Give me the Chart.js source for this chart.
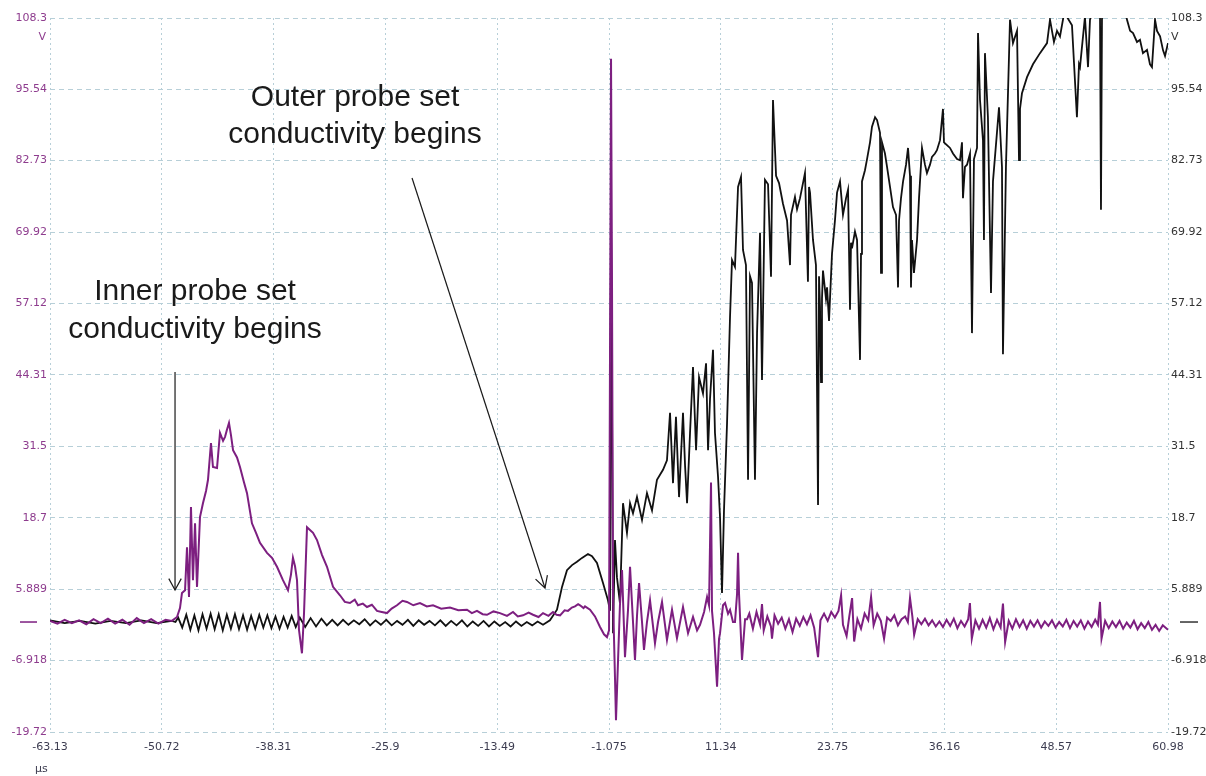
<!DOCTYPE html>
<html>
<head>
<meta charset="utf-8">
<script src="https://cdn.jsdelivr.net/npm/chart.js@4.4.0/dist/chart.umd.min.js"></script>
<style>
  html, body { margin: 0; padding: 0; background: #fff; }
  #wrap { width: 1206px; height: 776px; }
</style>
</head>
<body>
<div id="wrap"><canvas id="scope" width="1206" height="776"></canvas></div>
<script>
// axis ticks as printed by the scope software
const xTickLabels = ['-63.13', '-50.72', '-38.31', '-25.9', '-13.49', '-1.075', '11.34', '23.75', '36.16', '48.57', '60.98'];
const yTickLabels = ['-19.72', '-6.918', '5.889', '18.7', '31.5', '44.31', '57.12', '69.92', '82.73', '95.54', '108.3'];

// inner probe set (purple trace), time in µs, volts
const purpleT = [
  -63.13, -62.3, -61.5, -60.7, -59.9, -59.1, -58.3, -57.5, -56.7, -55.9, -55.1, -54.3, -53.5, -52.7, -51.9, -51.1, -50.3, -49.6,
  -49.03, -48.70, -48.48, -48.14, -47.92, -47.70, -47.48, -47.26, -47.03, -46.81, -46.48, -46.15, -45.81, -45.59, -45.26, -45.04,
  -44.59, -44.26, -43.92, -43.70, -43.48, -43.26, -43.04, -42.81, -42.37, -42.04, -41.59, -41.26, -40.71, -40.26, -39.82, -39.04,
  -38.49, -37.93, -37.27, -36.71, -36.38, -36.16, -35.93, -35.71, -35.49, -35.16, -34.93, -34.60, -34.27, -33.93, -33.49, -32.93,
  -32.38, -31.71, -30.94, -30.4, -29.83, -29.3, -28.94, -28.4, -27.94, -27.4, -26.83, -26.3, -25.72, -25.2, -24.61, -24.0,
  -23.50, -22.8, -22.06, -21.3, -20.61, -19.7, -18.73, -17.8, -16.84, -16.3, -15.73, -15.1, -14.62, -13.9, -13.18, -12.4,
  -11.73, -11.2, -10.62, -10.0, -9.51, -8.9, -8.40, -7.8, -7.29, -6.9, -6.51, -6.0, -5.63, -5.2, -4.85, -4.5, -4.29, -3.9,
  -3.74, -3.18, -2.63, -2.07, -1.63, -1.30, -1.07, -0.85, -0.74, -0.63, -0.41, -0.30, -0.07, 0.14, 0.37, 0.70, 1.03, 1.26,
  1.59, 1.81, 2.03, 2.26, 2.59, 2.81, 3.14, 3.48, 4.03, 4.37, 4.81, 5.36, 5.92, 6.47, 7.14, 7.70, 8.25, 8.70, 9.03, 9.48,
  9.81, 10.03, 10.25, 10.36, 10.58, 10.92, 11.14, 11.25, 11.58, 11.81, 12.14, 12.36, 12.69, 12.91, 13.14, 13.25, 13.36, 13.69,
  14.03, 14.25, 14.5, 14.9, 15.3, 15.7, 15.91, 16.1, 16.5, 16.9, 17.02, 17.3, 17.7, 18.1, 18.5, 18.9, 19.3, 19.7, 20.1, 20.5,
  20.9, 21.3, 21.7, 22.13, 22.4, 22.8, 23.2, 23.6, 24.0, 24.4, 24.69, 24.9, 25.3, 25.6, 25.91, 26.14, 26.5, 26.9, 27.3, 27.7,
  28.02, 28.3, 28.7, 29.1, 29.46, 29.8, 30.2, 30.6, 31.0, 31.4, 31.8, 32.1, 32.34, 32.6, 32.8, 33.2, 33.6, 34.0, 34.4, 34.8,
  35.2, 35.6, 36.0, 36.4, 36.8, 37.2, 37.6, 38.0, 38.4, 38.8, 38.99, 39.2, 39.6, 40.0, 40.4, 40.8, 41.2, 41.6, 42.0, 42.4,
  42.66, 42.9, 43.3, 43.7, 44.1, 44.5, 44.9, 45.3, 45.7, 46.1, 46.5, 46.9, 47.3, 47.7, 48.1, 48.5, 48.9, 49.3, 49.7, 50.1,
  50.5, 50.9, 51.3, 51.7, 52.1, 52.5, 52.9, 53.2, 53.43, 53.6, 54.0, 54.4, 54.8, 55.2, 55.6, 56.0, 56.4, 56.8, 57.2, 57.6,
  58.0, 58.4, 58.8, 59.2, 59.6, 60.0, 60.4, 60.98
];
const purpleV = [
  0.2, -0.3, 0.4, -0.2, 0.3, -0.4, 0.5, -0.2, 0.6, -0.3, 0.4, -0.5, 0.7, -0.2, 0.5, -0.3, 0.4, 0.2,
  0.9, 2.5, 5.2, 5.7, 13.4, 4.5, 20.6, 7.5, 17.7, 6.3, 18.8, 21.3, 23.5, 25.5, 32.1, 27.8,
  27.6, 33.9, 32.5, 33.2, 34.5, 35.7, 33.5, 30.8, 29.5, 27.8, 25.0, 23.1, 17.7, 16.0, 14.2, 12.4,
  11.5, 9.9, 7.5, 5.7, 8.5, 11.5, 10.0, 7.5, -1.4, -5.6, 1.6, 17.0, 16.5, 16.0, 14.7, 12.0,
  9.9, 6.3, 4.8, 3.6, 3.4, 4.0, 3.0, 3.3, 2.7, 3.1, 2.0, 1.8, 1.6, 2.4, 3.0, 3.8,
  3.6, 3.0, 3.4, 2.8, 3.0, 2.4, 2.6, 2.1, 2.2, 1.6, 2.0, 1.4, 1.3, 1.9, 1.6, 1.1,
  1.8, 1.0, 1.2, 1.7, 1.3, 0.9, 1.6, 1.1, 1.8, 1.3, 1.2, 2.1, 2.0, 2.6, 2.8, 3.2, 3.0, 2.5,
  2.8, 2.2, 1.0, -0.9, -2.2, -2.7, -1.5, 101, 60, 4.5, -10, -17.6, -6.8, 3.0, 9.3, -6.3, 2.0, 9.9,
  0.0, -6.8, 1.0, 7.0, 0.0, -5.0, 0.0, 3.9, -3.8, 0.0, 3.6, -3.2, 2.2, -2.9, 2.7, -2.0, 0.9, -1.5, -0.5, 1.8,
  4.5, 3.0, 25, 2.0, -2.0, -11.6, -3.0, -2.0, 3.0, 3.4, 1.5, 2.2, 0.0, 0.0, 5.0, 12.4, 5.0, -6.8,
  0.5, 0.5, 1.5, -1.2, 1.8, -0.5, 3.2, -1.5, 1.0, -0.8, -3.0, 1.2, -0.3, 0.8, -1.2, 0.5, -1.8, 0.6, -0.7, 0.9,
  -0.4, 1.2, -1.0, -6.3, 0.3, 1.5, 0.2, 1.8, 0.8, 2.0, 4.8, -0.5, -2.5, 1.0, 4.3, -3.5, 0.5, -1.2, 1.5, 0.3,
  4.5, -0.6, 1.5, 0.2, -3.0, 0.8, 0.2, 1.2, -0.6, 0.5, 1.0, 0.0, 4.3, 1.0, -2.3, 0.5, -0.4, 0.6, -0.6, 0.3,
  -0.8, 0.1, -0.9, 0.4, -0.7, 0.6, -1.1, 0.2, -0.8, 0.5, 3.4, -3.0, 0.3, -1.2, 0.4, -1.0, 0.7, -1.3, 0.4, -1.0,
  3.3, -3.6, 0.2, -1.2, 0.5, -0.9, 0.3, -1.2, 0.2, -0.8, 0.3, -1.0, 0.1, -0.7, 0.3, -1.0, 0.0, -0.8, 0.4, -1.1,
  0.2, -0.8, 0.3, -1.2, 0.1, -0.9, 0.4, -0.5, 3.6, -3.0, 0.2, -1.1, 0.1, -0.9, 0.2, -1.2, -0.1, -1.0, 0.2, -1.3,
  -0.2, -1.1, 0.0, -1.4, -0.5, -1.6, -0.6, -1.4
];

// outer probe set (black trace)
const blackT = [
  -63.13, -61.5, -59.8, -58.1, -56.4, -54.7, -53.0, -51.3, -49.6, -49.2,
  -48.9, -48.45, -48.0, -47.55, -47.1, -46.65, -46.2, -45.75, -45.3, -44.85, -44.4, -43.95, -43.5, -43.05, -42.6, -42.15,
  -41.7, -41.25, -40.8, -40.35, -39.9, -39.45, -39.0, -38.55, -38.1, -37.65, -37.2, -36.75, -36.3, -35.85, -35.4,
  -34.8, -34.2, -33.6, -33.0, -32.4, -31.8, -31.2, -30.6, -30.0, -29.4, -28.8, -28.2, -27.6, -27.0, -26.4, -25.8,
  -25.2, -24.6, -24.0, -23.4, -22.8, -22.2, -21.6, -21.0, -20.4, -19.8, -19.2, -18.6, -18.0, -17.4, -16.8, -16.2,
  -15.6, -15.0, -14.4, -13.8, -13.2, -12.6, -12.0, -11.4, -10.8, -10.2, -9.6, -9.0, -8.4,
  -7.63, -6.85, -6.29, -5.74, -5.18, -4.63, -4.07, -3.41, -2.96, -2.41, -1.74, -1.19, -0.96, -0.85, -0.74, -0.63,
  -0.41, -0.19, 0.14, 0.48, 0.92, 1.26, 1.59, 2.03, 2.59, 3.14, 3.70, 4.25, 4.92, 5.36, 5.70, 6.03, 6.36, 6.70,
  6.92, 7.14, 7.37, 7.59, 7.92, 8.25, 8.59, 8.92, 9.36, 9.70, 9.92, 10.14, 10.47, 10.69, 11.03, 11.25, 11.47, 11.69,
  12.03, 12.36, 12.58, 12.91, 13.25, 13.58, 13.80, 14.13, 14.36, 14.58, 14.80, 15.13, 15.36, 15.69, 15.91, 16.24,
  16.58, 16.91, 17.13, 17.47, 17.80, 18.24, 18.69, 19.02, 19.13, 19.57, 19.80, 20.13, 20.68, 21.01, 21.13, 21.24,
  21.57, 21.90, 22.13, 22.24, 22.35, 22.46, 22.57, 22.68, 23.01, 23.13, 23.35, 23.68, 24.01, 24.24, 24.57, 24.90,
  25.24, 25.46, 25.68, 25.79, 25.90, 26.23, 26.46, 26.79, 26.90, 27.01, 27.34, 27.57, 27.90, 28.12, 28.46, 28.68,
  29.01, 29.12, 29.23, 29.56, 29.79, 30.12, 30.45, 30.79, 31.01, 31.12, 31.34, 31.57, 31.90, 32.12, 32.34, 32.45,
  32.56, 32.78, 33.12, 33.34, 33.67, 34.00, 34.22, 34.56, 34.78, 35.11, 35.33, 35.67, 36.00, 36.11, 36.44, 36.78,
  37.11, 37.56, 37.89, 38.11, 38.22, 38.44, 38.67, 39.00, 39.22, 39.44, 39.78, 39.89, 40.11, 40.44, 40.55, 40.66,
  40.99, 41.33, 41.55, 41.99, 42.22, 42.55, 42.66, 42.99, 43.22, 43.44, 43.77, 44.22, 44.44, 44.55, 44.77, 45.33,
  45.99, 46.77, 47.55, 47.88, 48.32, 48.66, 48.99, 49.43, 49.76, 50.32, 50.87, 51.10, 51.21, 51.76, 52.10, 52.32,
  52.54, 53.10, 53.43, 53.54, 53.65, 53.76, 54.54, 55.65, 56.43, 56.77, 57.10, 57.54, 57.87, 58.20, 58.65, 58.98,
  59.20, 59.54, 59.76, 60.10, 60.43, 60.65, 60.98
];
const blackV = [
  0.3, -0.2, 0.2, -0.3, 0.2, -0.2, 0.3, -0.2, 0.2, 0.0,
  0.8, -1.0, 1.3, -1.4, 1.2, -1.5, 1.4, -1.2, 1.5, -1.3, 1.4, -1.5, 1.3, -1.2, 1.4, -1.3,
  1.2, -1.4, 1.1, -1.2, 1.3, -1.0, 1.2, -1.1, 1.0, -1.2, 0.9, -1.0, 1.1, -0.9, 0.8,
  -0.9, 0.7, -0.8, 0.6, -0.6, 0.4, -0.6, 0.4, -0.5, 0.3, -0.4, 0.5, -0.6, 0.3, -0.5, 0.4,
  -0.6, 0.2, -0.5, 0.4, -0.7, 0.3, -0.5, 0.2, -0.6, 0.3, -0.7, 0.2, -0.6, 0.3, -0.8, 0.1,
  -0.7, 0.2, -0.8, 0.1, -0.7, 0.0, -0.8, 0.1, -0.7, 0.0, -0.6, 0.1, -0.5,
  0.3, 2.2, 6.3, 9.3, 10.2, 10.8, 11.5, 12.2, 11.8, 10.6, 7.0, 3.9, 2.0, 72.6, 40, -2.0,
  14.7, 8.0, 3.4, 21.3, 16.0, 21.3, 19.5, 22.4, 18.3, 23.1, 20.0, 25.5, 27.3, 29.0, 37.5, 24.9, 36.8, 22.4,
  30.0, 37.5, 28.0, 21.3, 33.9, 45.7, 30.8, 43.9, 41.0, 46.4, 30.8, 40.0, 48.8, 33.9, 26.0, 18.8, 5.2, 20.0,
  35.7, 54.7, 64.9, 63.7, 78.0, 79.8, 66.7, 64.0, 25.5, 62.0, 60.8, 25.5, 51.8, 69.8, 43.4, 79.3,
  78.5, 61.9, 93.6, 80.0, 78.7, 75.0, 72.0, 64.0, 73.0, 76.2, 74.0, 76.0, 80.5, 61.0, 78.0, 77.0,
  68.5, 64.0, 21.0, 62.0, 56.5, 43.0, 58.0, 63.0, 58.0, 60.0, 54.0, 66.0, 72.0, 77.0, 79.0, 73.0,
  76.0, 77.5, 56.0, 68.0, 67.0, 70.0, 68.5, 47.0, 66.0, 79.0, 81.0, 83.0, 86.0, 88.8, 90.5, 90.0,
  87.7, 62.6, 86.0, 84.0, 81.6, 78.0, 74.4, 73.0, 60.0, 72.0, 76.0, 79.0, 82.0, 85.0, 80.0, 60.0,
  68.5, 62.6, 68.5, 76.0, 85.0, 82.0, 80.5, 82.0, 83.4, 84.0, 84.6, 86.4, 92.0, 86.0, 85.5, 85.0,
  84.0, 83.0, 82.8, 86.0, 76.0, 81.6, 82.0, 84.0, 51.8, 83.0, 85.0, 105.6, 93.6, 86.4, 68.5, 102,
  90.5, 59.0, 79.0, 87.7, 92.3, 81.6, 48.0, 81.6, 95.0, 108, 103.8, 106, 82.8, 92.0, 94.8, 97.7,
  100, 102, 103.8, 108, 104, 106, 105, 109, 108.5, 107, 90.5, 100, 99.5, 108.5, 99.5, 108,
  109, 112, 110, 73.9, 108, 112, 114, 113, 108, 106, 105.6, 104, 104.4, 102, 102.6, 100,
  99.5, 108, 106, 105, 102.5, 101.5, 103.8
];

// callouts drawn on the picture, anchored in data units
const notes = [
  { lines: ['Inner probe set', 'conductivity begins'], cx: -47.03, cy: [59.17, 52.36], from: [-49.25, 44.83], to: [-49.25, 5.74] },
  { lines: ['Outer probe set', 'conductivity begins'], cx: -29.27, cy: [93.96, 87.32], from: [-22.94, 79.61], to: [-8.18, 6.10] }
];

const purple = '#7d1f80';
const gridColor = '#b7cfd8';
const tickFont = { family: 'DejaVu Sans', size: 11 };

const toPoints = (ts, vs) => ts.map((t, i) => ({ x: t, y: vs[i] }));

const scopeMarks = {
  id: 'scopeMarks',
  afterDraw(chart) {
    const { ctx, chartArea, scales } = chart;
    const xs = scales.x, ys = scales.y;
    ctx.save();
    ctx.font = '11px "DejaVu Sans"';
    ctx.textBaseline = 'middle';
    // unit labels
    ctx.fillStyle = '#8e3c8e';
    ctx.textAlign = 'right';
    ctx.fillText('V', chartArea.left - 4, chartArea.top + 19);
    ctx.fillStyle = '#333';
    ctx.textAlign = 'left';
    ctx.fillText('V', chartArea.right + 3, chartArea.top + 19);
    ctx.fillStyle = '#3c3c50';
    ctx.fillText('µs', chartArea.left - 15, chartArea.bottom + 37);

    // zero-level markers on both sides
    const y0 = ys.getPixelForValue(0);
    ctx.lineWidth = 1.5;
    ctx.strokeStyle = purple;
    ctx.beginPath(); ctx.moveTo(20, y0); ctx.lineTo(37, y0); ctx.stroke();
    ctx.strokeStyle = '#333';
    ctx.beginPath(); ctx.moveTo(chartArea.right + 12, y0); ctx.lineTo(chartArea.right + 30, y0); ctx.stroke();

    // callouts
    ctx.font = '30px "Liberation Sans"';
    ctx.textAlign = 'center';
    ctx.fillStyle = '#1a1a1a';
    ctx.strokeStyle = '#1a1a1a';
    ctx.lineWidth = 1.2;
    notes.forEach(n => {
      n.lines.forEach((s, i) => ctx.fillText(s, xs.getPixelForValue(n.cx), ys.getPixelForValue(n.cy[i])));
      const x1 = xs.getPixelForValue(n.from[0]), y1 = ys.getPixelForValue(n.from[1]);
      const x2 = xs.getPixelForValue(n.to[0]), y2 = ys.getPixelForValue(n.to[1]);
      ctx.beginPath(); ctx.moveTo(x1, y1); ctx.lineTo(x2, y2); ctx.stroke();
      const a = Math.atan2(y2 - y1, x2 - x1), len = 13, spread = 0.5;
      ctx.beginPath();
      ctx.moveTo(x2 - len * Math.cos(a - spread), y2 - len * Math.sin(a - spread));
      ctx.lineTo(x2, y2);
      ctx.lineTo(x2 - len * Math.cos(a + spread), y2 - len * Math.sin(a + spread));
      ctx.stroke();
    });
    ctx.restore();
  }
};

const fixedTicks = (labels) => (scale) => {
  scale.ticks = labels.map(l => ({ value: parseFloat(l) }));
};

new Chart(document.getElementById('scope'), {
  type: 'line',
  data: {
    datasets: [
      { label: 'inner', data: toPoints(purpleT, purpleV), borderColor: purple, borderWidth: 2, pointRadius: 0, tension: 0, yAxisID: 'y' },
      { label: 'outer', data: toPoints(blackT, blackV), borderColor: '#111', borderWidth: 1.8, pointRadius: 0, tension: 0, yAxisID: 'y' }
    ]
  },
  options: {
    responsive: false,
    animation: false,
    parsing: false,
    layout: { padding: { top: 18 } },
    plugins: { legend: { display: false }, tooltip: { enabled: false } },
    scales: {
      x: {
        type: 'linear',
        min: -63.13,
        max: 60.98,
        afterBuildTicks: fixedTicks(xTickLabels),
        afterFit: s => { s.height = 44; },
        ticks: { autoSkip: false, maxRotation: 0, padding: 9, color: '#3c3c50', font: tickFont, callback: (v, i) => xTickLabels[i] },
        grid: { color: gridColor, drawTicks: false },
        border: { display: false, dash: [2, 3] }
      },
      y: {
        position: 'left',
        min: -19.72,
        max: 108.3,
        afterBuildTicks: fixedTicks(yTickLabels),
        afterFit: s => { s.width = 50; },
        ticks: { padding: 3, color: '#8e3c8e', font: tickFont, callback: (v, i) => yTickLabels[i] },
        grid: { color: gridColor, drawTicks: false },
        border: { display: false, dash: [5, 4] }
      },
      y2: {
        position: 'right',
        min: -19.72,
        max: 108.3,
        afterBuildTicks: fixedTicks(yTickLabels),
        afterFit: s => { s.width = 38; },
        ticks: { padding: 3, color: '#333', font: tickFont, callback: (v, i) => yTickLabels[i] },
        grid: { display: false, drawTicks: false },
        border: { display: false }
      }
    }
  },
  plugins: [scopeMarks]
});
</script>
</body>
</html>
